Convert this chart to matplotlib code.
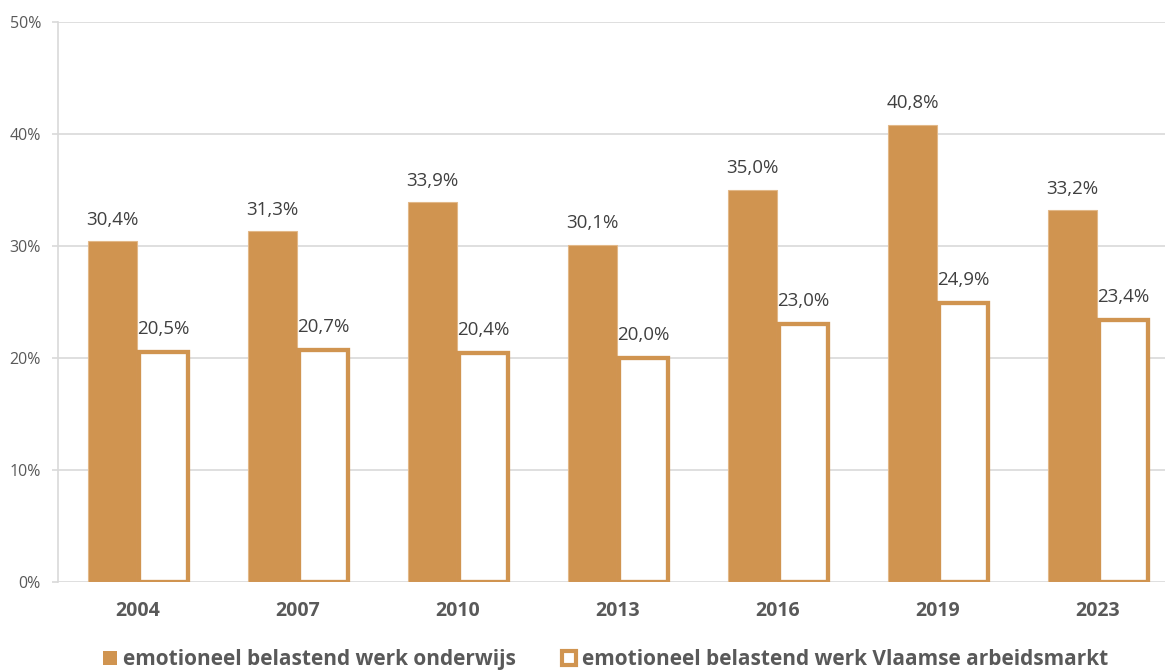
import matplotlib.pyplot as plt
from matplotlib.patches import Patch
import numpy as np

plt.rcParams["font.family"] = ["Open Sans", "DejaVu Sans"]

years = ["2004", "2007", "2010", "2013", "2016", "2019", "2023"]
onderwijs = [30.4, 31.3, 33.9, 30.1, 35.0, 40.8, 33.2]
vlaamse = [20.5, 20.7, 20.4, 20.0, 23.0, 24.9, 23.4]
series_names = [
    "emotioneel belastend werk onderwijs",
    "emotioneel belastend werk Vlaamse arbeidsmarkt",
]

tan = "#D09450"
grid_col = "#D9D9D9"
txt_col = "#595959"

fig = plt.figure(figsize=(11.65, 6.7), dpi=100)
ax = fig.add_axes([58 / 1165, 88.3 / 670, 1120 / 1165, 559.7 / 670])

x = np.arange(len(years))
w = 0.306
off = 0.159

ax.bar(x - off, onderwijs, w, color=tan, edgecolor="#E2B888", linewidth=0.8, zorder=3)
ax.bar(x + off, vlaamse, w, facecolor="white", edgecolor=tan, linewidth=3.1,
       joinstyle="miter", zorder=3)

# value labels
for xi, v in zip(x - off, onderwijs):
    ax.annotate(f"{v:.1f}%".replace(".", ","), (xi, v), xytext=(0, 9),
                textcoords="offset points", ha="center", va="bottom",
                fontsize=13.5, color="#404040")
for xi, v in zip(x + off, vlaamse):
    ax.annotate(f"{v:.1f}%".replace(".", ","), (xi, v), xytext=(0, 10),
                textcoords="offset points", ha="center", va="bottom",
                fontsize=13.5, color="#404040")

ax.set_xlim(-0.5, len(years) - 0.5)
ax.set_ylim(0, 50)
ax.set_yticks(range(0, 51, 10))
ax.set_yticklabels([f"{t}%" for t in range(0, 51, 10)])
ax.set_xticks(x)
ax.set_xticklabels(years, fontweight="bold")

ax.yaxis.grid(True, color=grid_col, linewidth=1.2, zorder=0)
ax.set_axisbelow(True)
for s in ["top", "right", "bottom"]:
    ax.spines[s].set_visible(False)
ax.spines["left"].set_color(grid_col)
ax.spines["left"].set_linewidth(1.2)

ax.tick_params(axis="y", length=4.3, width=1.2, color=grid_col, pad=8,
               labelsize=11.5, labelcolor=txt_col)
ax.tick_params(axis="x", length=0, pad=14, labelsize=14, labelcolor=txt_col)

handles = [
    Patch(facecolor=tan, edgecolor=tan, linewidth=0),
    Patch(facecolor="white", edgecolor=tan, linewidth=3),
]
leg = fig.legend(handles, series_names, loc="lower center", ncol=2,
                 bbox_to_anchor=(0.520, -0.028), frameon=False,
                 handlelength=0.67, handleheight=0.67, handletextpad=0.3,
                 columnspacing=2.2,
                 prop={"size": 15, "weight": "bold"})
for t in leg.get_texts():
    t.set_color(txt_col)

fig.savefig("out.png", dpi=100)
